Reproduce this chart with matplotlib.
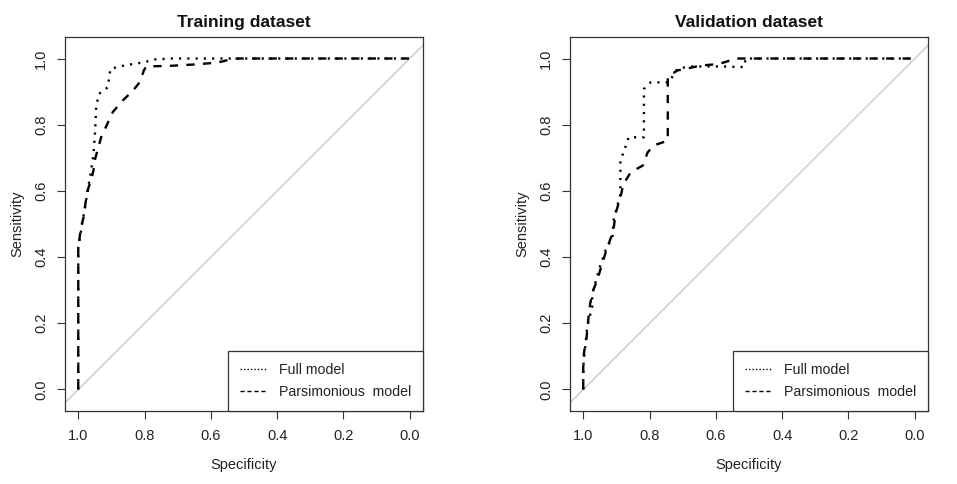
import matplotlib
matplotlib.use("Agg")
import matplotlib.pyplot as plt
from matplotlib.lines import Line2D

plt.rcParams['font.family'] = ['Liberation Sans', 'DejaVu Sans']

titles = ["Training dataset", "Validation dataset"]
legend_labels = ["Full model", "Parsimonious  model"]
tick_values = [1.0, 0.8, 0.6, 0.4, 0.2, 0.0]
tick_labels = ["1.0", "0.8", "0.6", "0.4", "0.2", "0.0"]

# Training dataset
train_full_spec = [1.0, 1.0, 0.993, 0.985, 0.978, 0.970, 0.963, 0.957, 0.954, 0.949, 0.946,
                   0.938, 0.911, 0.903, 0.861, 0.80, 0.77, 0.72, 0.0]
train_full_sens = [0.0, 0.43, 0.47, 0.52, 0.56, 0.61, 0.65, 0.69, 0.712, 0.782, 0.853,
                   0.893, 0.913, 0.969, 0.979, 0.989, 0.997, 1.0, 1.0]
train_pars_spec = [1.0, 1.0, 0.997, 0.992, 0.984, 0.977, 0.972, 0.962, 0.954, 0.949, 0.931,
                   0.896, 0.866, 0.835, 0.815, 0.802, 0.795, 0.72, 0.65, 0.60, 0.57,
                   0.55, 0.52, 0.0]
train_pars_sens = [0.0, 0.42, 0.45, 0.49, 0.52, 0.571, 0.601, 0.631, 0.662, 0.697, 0.762,
                   0.838, 0.873, 0.903, 0.928, 0.964, 0.976, 0.978, 0.982, 0.986, 0.99,
                   0.995, 1.0, 1.0]

# Validation dataset
val_full_spec = [1.0, 1.0, 0.995, 0.988, 0.973, 0.973, 0.964, 0.95, 0.933, 0.912, 0.909,
                 0.888, 0.888, 0.873, 0.863, 0.817, 0.817, 0.797, 0.742, 0.716, 0.68,
                 0.58, 0.515, 0.51, 0.0]
val_full_sens = [0.0, 0.07, 0.12, 0.19, 0.25, 0.29, 0.32, 0.37, 0.42, 0.46, 0.51,
                 0.59, 0.69, 0.732, 0.762, 0.762, 0.908, 0.928, 0.928, 0.969, 0.976,
                 0.976, 0.974, 1.0, 1.0]
val_pars_spec = [1.0, 1.0, 0.998, 0.99, 0.985, 0.979, 0.97, 0.958, 0.94, 0.927, 0.909,
                 0.903, 0.888, 0.879, 0.857, 0.82, 0.806, 0.788, 0.745, 0.745, 0.716,
                 0.685, 0.645, 0.606, 0.576, 0.539, 0.0]
val_pars_sens = [0.0, 0.066, 0.11, 0.157, 0.21, 0.26, 0.30, 0.33, 0.39, 0.43, 0.48,
                 0.53, 0.58, 0.62, 0.656, 0.677, 0.716, 0.737, 0.752, 0.945, 0.964,
                 0.97, 0.979, 0.982, 0.988, 1.0, 1.0]

panels = [
    (train_full_spec, train_full_sens, train_pars_spec, train_pars_sens),
    (val_full_spec, val_full_sens, val_pars_spec, val_pars_sens),
]

W, H = 957, 484
fig = plt.figure(figsize=(W / 100, H / 100), dpi=100)
ax_lefts = [65, 570]
ax_w, ax_top, ax_bot = 358, 37, 411

text_color = "#222222"
for i, (fs, fsn, ps, psn) in enumerate(panels):
    ax = fig.add_axes([ax_lefts[i] / W, (H - ax_bot) / H, ax_w / W, (ax_bot - ax_top) / H])
    ax.axline((1, 0), (0, 1), color="#c8c8c8", lw=1.0, zorder=1)
    ax.plot(fs, fsn, color="black", lw=1.7, linestyle=(0, (0.9, 2.6)), zorder=3)
    ax.plot(ps, psn, color="black", lw=1.7, linestyle=(0, (3.5, 3.5)), zorder=3)
    ax.set_xlim(1.04, -0.04)
    ax.set_ylim(-0.065, 1.065)
    ax.set_xticks(tick_values)
    ax.set_xticklabels(tick_labels)
    ax.set_yticks(tick_values)
    ax.set_yticklabels(tick_labels, rotation=90, va="center")
    ax.tick_params(direction="out", length=5.5, width=0.8, labelsize=10.5,
                   colors="#333333", labelcolor=text_color, pad=7.5)
    ax.tick_params(axis="y", pad=6.5)
    for sp in ax.spines.values():
        sp.set_color("#333333")
        sp.set_linewidth(0.9)
    ax.set_xlabel("Specificity", fontsize=10.5, color=text_color, labelpad=11)
    ax.set_ylabel("Sensitivity", fontsize=10.5, color=text_color, labelpad=7.5)
    ax.set_title(titles[i], fontsize=12.5, fontweight="bold", pad=7, color="#111111")
    handles = [Line2D([], [], color="black", lw=1.0, linestyle=(0, (1, 1.5))),
               Line2D([], [], color="black", lw=1.0, linestyle=(0, (3, 2)))]
    leg = ax.legend(handles, legend_labels, loc="lower right", bbox_to_anchor=(1, 0),
                    borderaxespad=0, fancybox=False, edgecolor="#333333", framealpha=1,
                    fontsize=10.2, handlelength=1.9, handletextpad=0.85,
                    borderpad=0.85, labelspacing=0.55, labelcolor=text_color)
    leg.get_frame().set_linewidth(0.9)

fig.savefig("out.png", dpi=100)
